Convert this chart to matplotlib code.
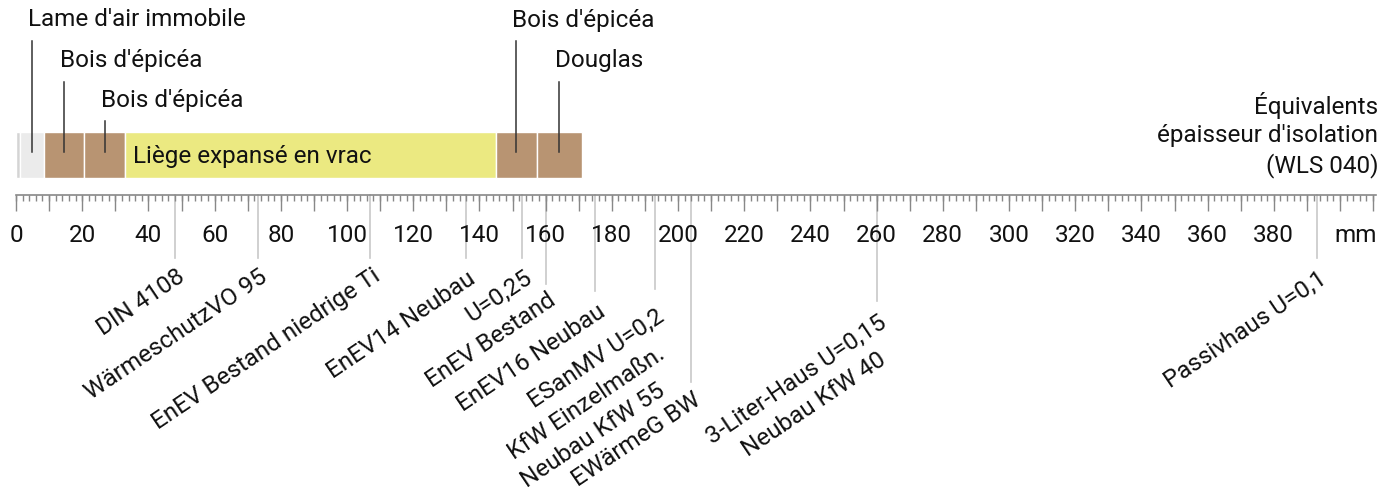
import numpy as np
import matplotlib
matplotlib.use("Agg")
import matplotlib.pyplot as plt

plt.rcParams['font.family'] = ['Roboto', 'DejaVu Sans']

# couches de la paroi (épaisseur équivalente en mm)
layer_names = ["", "Lame d'air immobile", "Bois d'épicéa", "Bois d'épicéa",
               "Liège expansé en vrac", "Bois d'épicéa", "Douglas"]
layer_mm = [1.2, 7.2, 12.2, 12.3, 112.2, 12.2, 13.7]
layer_colors = ['#d4d4d4', '#ebebeb', '#b89472', '#b89472', '#ebe981', '#b89472', '#b89472']

# exigences (épaisseur d'isolant WLS 040 en mm)
ref_mm = [48, 73, 107, 136, 153, 160, 175, 193, 204, 260, 393]
ref_labels = [["DIN 4108"], ["WärmeschutzVO 95"], ["EnEV Bestand niedrige Ti"],
              ["EnEV14 Neubau"], ["U=0,25"], ["EnEV Bestand"], ["EnEV16 Neubau"],
              ["ESanMV U=0,2", "KfW Einzelmaßn.", "Neubau KfW 55"], ["EWärmeG BW"],
              ["3-Liter-Haus U=0,15", "Neubau KfW 40"], ["Passivhaus U=0,1"]]

tick_values = list(range(0, 400, 20))

# mise en page (pixels)
PX = 3.31          # px par mm
X0 = 16            # position du 0
label_top = [265, 265, 264, 267, 266, 289, 300, 305, 388, 311, 267]
line_end = [258, 258, 258, 258, 258, 284, 291, 289, 382, 301, 258]
callout_rows = {1: 0, 2: 1, 3: 2, 5: 0, 6: 1}
FS = 17.5

fig = plt.figure(figsize=(13.93, 4.94), dpi=100)
ax = fig.add_axes([0, 0, 1, 1])
ax.axis('off')
ax.set_xlim(-X0 / PX, (1393 - X0) / PX)
ax.set_ylim(494, 0)

# barre des couches
starts = np.concatenate([[0], np.cumsum(layer_mm)[:-1]])
ax.barh(155, layer_mm, left=starts, height=46, color=layer_colors,
        edgecolor='white', linewidth=1, zorder=2)
cork = 4
ax.text(starts[cork] + 8 / PX, 156, layer_names[cork], fontsize=FS,
        ha='left', va='center', color='#111111', zorder=3)

row_y = [20, 61, 100]
for i, row in callout_rows.items():
    xm = starts[i] + layer_mm[i] / 2
    ax.text(xm - 4 / PX, row_y[row], layer_names[i], fontsize=FS,
            ha='left', va='center', color='#111111')
    ax.plot([xm, xm], [row_y[row] + 21, 152], color='#333333', lw=1.1, zorder=3)

# règle
axis_end = 411
ax.plot([0, axis_end], [195, 195], color='#888888', lw=1.2)
minor = np.arange(0, axis_end, 2)
major = np.arange(0, axis_end, 10)
ax.vlines(minor, 195, 200.5, color='#888888', lw=1)
ax.vlines(major, 195, 211, color='#888888', lw=1)
for v in tick_values:
    ax.text(v, 242, str(v), fontsize=FS, ha='center', va='baseline', color='#111111')
ax.text(axis_end, 242, 'mm', fontsize=FS, ha='right', va='baseline', color='#111111')

ax.text(axis_end + 0.5, 135, "Équivalents\népaisseur d'isolation\n(WLS 040)",
        fontsize=FS, ha='right', va='center', multialignment='right',
        linespacing=1.3, color='#111111')

# repères des exigences
for xm, labels, top, yend in zip(ref_mm, ref_labels, label_top, line_end):
    ax.plot([xm, xm], [195, yend], color='#c8c8c8', lw=1.2, zorder=0)
    for k, lab in enumerate(labels):
        ax.text(xm + 1 / PX, top + 37 * k, lab, fontsize=FS, rotation=34,
                rotation_mode='anchor', ha='right', va='top', color='#111111')

fig.savefig('out.png', dpi=100)
